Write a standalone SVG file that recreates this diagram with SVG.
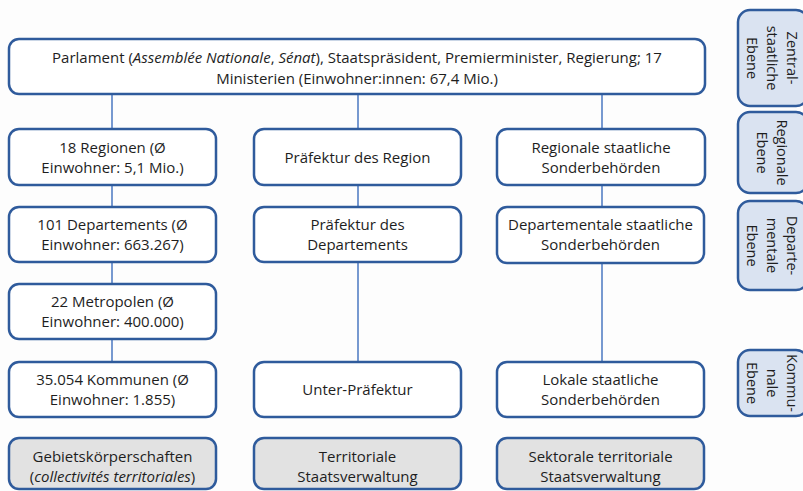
<svg xmlns="http://www.w3.org/2000/svg" width="803" height="491" viewBox="0 0 803 491">
<style>
.box{fill:#ffffff;stroke:#2f5b9c;stroke-width:2.5}
.grey{fill:#e2e2e2;stroke:#2f5b9c;stroke-width:2.5}
.side{fill:#dae3f1;stroke:#2f5b9c;stroke-width:2.5}
.conn line{stroke:#4a77c0;stroke-width:1.5}
text{font-family:"Open Sans","Noto Sans","Liberation Sans",sans-serif;font-size:15px;fill:#1e1e1e;text-anchor:middle}
.s{font-size:14.5px}
</style>
<rect width="803" height="491" fill="#fdfdfd"/>
<g class="conn">
<line x1="112" y1="94" x2="112" y2="129"/>
<line x1="112" y1="185" x2="112" y2="207"/>
<line x1="112" y1="262" x2="112" y2="284"/>
<line x1="112" y1="339" x2="112" y2="362"/>
<line x1="358" y1="94" x2="358" y2="129"/>
<line x1="358" y1="185" x2="358" y2="207"/>
<line x1="358" y1="262" x2="358" y2="362"/>
<line x1="602" y1="94" x2="602" y2="129"/>
<line x1="602" y1="185" x2="602" y2="207"/>
<line x1="602" y1="263" x2="602" y2="362"/>
</g>
<g id="top"><rect class="box" x="9" y="39" width="696" height="55" rx="10"/>
<text x="357" y="63">Parlament (<tspan font-style="italic">Assemblée Nationale</tspan>, <tspan font-style="italic">Sénat</tspan>), Staatspräsident, Premierminister, Regierung; 17</text>
<text x="357" y="84">Ministerien (Einwohner:innen: 67,4 Mio.)</text></g>
<g id="regionen"><rect class="box" x="9" y="129" width="207" height="56" rx="10"/>
<text x="112.5" y="153">18 Regionen (Ø</text><text x="112.5" y="173">Einwohner: 5,1 Mio.)</text></g>
<g id="praef-region"><rect class="box" x="254" y="129" width="207" height="56" rx="10"/>
<text x="357.5" y="163">Präfektur des Region</text></g>
<g id="reg-sonder"><rect class="box" x="497" y="129" width="208" height="56" rx="10"/>
<text x="601" y="153">Regionale staatliche</text><text x="601" y="173">Sonderbehörden</text></g>
<g id="departements"><rect class="box" x="9" y="207" width="207" height="55" rx="10"/>
<text x="112.5" y="230">101 Departements (Ø</text><text x="112.5" y="250">Einwohner: 663.267)</text></g>
<g id="praef-dep"><rect class="box" x="254" y="207" width="207" height="55" rx="10"/>
<text x="357.5" y="230">Präfektur des</text><text x="357.5" y="250">Departements</text></g>
<g id="dep-sonder"><rect class="box" x="497" y="207" width="207" height="56" rx="10"/>
<text x="600.5" y="230">Departementale staatliche</text><text x="600.5" y="250">Sonderbehörden</text></g>
<g id="metropolen"><rect class="box" x="9" y="284" width="207" height="55" rx="10"/>
<text x="112.5" y="307">22 Metropolen (Ø</text><text x="112.5" y="327">Einwohner: 400.000)</text></g>
<g id="kommunen"><rect class="box" x="9" y="362" width="207" height="55" rx="10"/>
<text x="112.5" y="385">35.054 Kommunen (Ø</text><text x="112.5" y="405">Einwohner: 1.855)</text></g>
<g id="unter-praef"><rect class="box" x="254" y="362" width="207" height="55" rx="10"/>
<text x="357.5" y="395">Unter-Präfektur</text></g>
<g id="lok-sonder"><rect class="box" x="497" y="362" width="207" height="55" rx="10"/>
<text x="600.5" y="385">Lokale staatliche</text><text x="600.5" y="405">Sonderbehörden</text></g>
<g id="gebiet"><rect class="grey" x="9" y="438" width="207" height="51" rx="10"/>
<text x="112.5" y="462">Gebietskörperschaften</text><text x="112.5" y="482">(<tspan font-style="italic">collectivités territoriales</tspan>)</text></g>
<g id="territ"><rect class="grey" x="254" y="438" width="207" height="51" rx="10"/>
<text x="357.5" y="462">Territoriale</text><text x="357.5" y="482">Staatsverwaltung</text></g>
<g id="sektor"><rect class="grey" x="497" y="438" width="207" height="51" rx="10"/>
<text x="600.5" y="462">Sektorale territoriale</text><text x="600.5" y="482">Staatsverwaltung</text></g>
<g id="side-zentral"><rect class="side" x="738" y="10" width="70" height="96" rx="12"/>
<g transform="translate(772,58) rotate(90)"><text class="s" x="0" y="-15">Zentral-</text><text class="s" x="0" y="5">staatliche</text><text class="s" x="0" y="25">Ebene</text></g></g>
<g id="side-regional"><rect class="side" x="738" y="112" width="70" height="81" rx="12"/>
<g transform="translate(772,152.5) rotate(90)"><text class="s" x="0" y="-5">Regionale</text><text class="s" x="0" y="15">Ebene</text></g></g>
<g id="side-dep"><rect class="side" x="738" y="201" width="70" height="89" rx="12"/>
<g transform="translate(772,245.5) rotate(90)"><text class="s" x="0" y="-15">Departe-</text><text class="s" x="0" y="5">mentale</text><text class="s" x="0" y="25">Ebene</text></g></g>
<g id="side-kommunal"><rect class="side" x="738" y="350" width="70" height="66" rx="12"/>
<g transform="translate(772,383) rotate(90)"><text class="s" x="0" y="-15">Kommu-</text><text class="s" x="0" y="5">nale</text><text class="s" x="0" y="25">Ebene</text></g></g>
</svg>
